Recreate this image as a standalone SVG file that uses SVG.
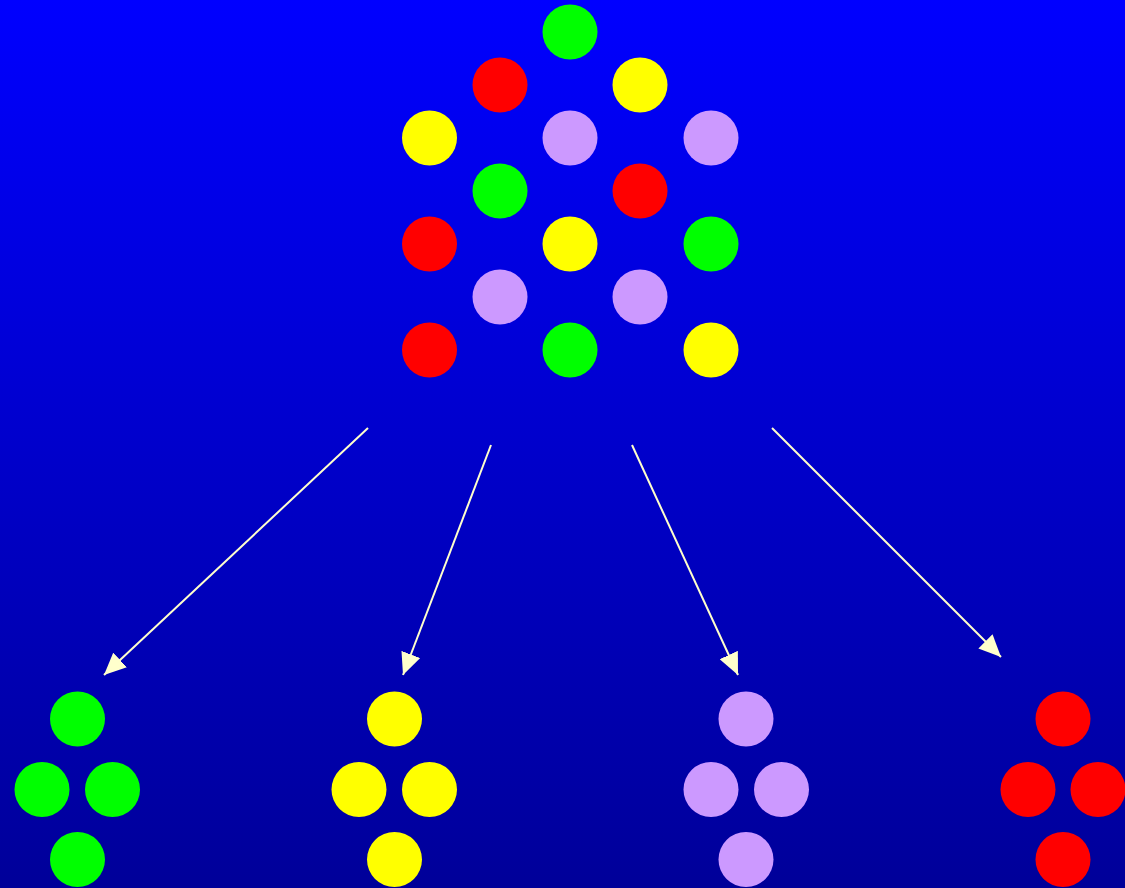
<svg xmlns="http://www.w3.org/2000/svg" width="1125" height="888" viewBox="0 0 1125 888">
<defs>
<linearGradient id="bg" x1="0" y1="0" x2="0" y2="1">
<stop offset="0" stop-color="#0000FF"/>
<stop offset="1" stop-color="#000099"/>
</linearGradient>
<marker id="ah" markerUnits="userSpaceOnUse" markerWidth="24" markerHeight="20" refX="22" refY="10" orient="auto">
<path d="M0,0 L22,10 L0,20 Z" fill="#FFFFCC"/>
</marker>
<style>
.g{fill:#00FF00}.r{fill:#FF0000}.y{fill:#FFFF00}.l{fill:#CC99FF}
.c{stroke:#FFFFCC;stroke-width:2;fill:none;marker-end:url(#ah)}
</style>
</defs>
<rect width="1125" height="888" fill="url(#bg)"/>
<g id="mixed">
<circle class="g" cx="570" cy="32" r="27.5"/>
<circle class="r" cx="500" cy="85" r="27.5"/>
<circle class="y" cx="640" cy="85" r="27.5"/>
<circle class="y" cx="429.5" cy="138" r="27.5"/>
<circle class="l" cx="570" cy="138" r="27.5"/>
<circle class="l" cx="711" cy="138" r="27.5"/>
<circle class="g" cx="500" cy="191" r="27.5"/>
<circle class="r" cx="640" cy="191" r="27.5"/>
<circle class="r" cx="429.5" cy="244" r="27.5"/>
<circle class="y" cx="570" cy="244" r="27.5"/>
<circle class="g" cx="711" cy="244" r="27.5"/>
<circle class="l" cx="500" cy="297" r="27.5"/>
<circle class="l" cx="640" cy="297" r="27.5"/>
<circle class="r" cx="429.5" cy="350" r="27.5"/>
<circle class="g" cx="570" cy="350" r="27.5"/>
<circle class="y" cx="711" cy="350" r="27.5"/>
</g>
<g id="connectors">
<line class="c" x1="368" y1="428" x2="104" y2="675"/>
<line class="c" x1="491" y1="445" x2="403" y2="675"/>
<line class="c" x1="632" y1="445" x2="738" y2="675"/>
<line class="c" x1="772" y1="428" x2="1001" y2="657"/>
</g>
<g id="green">
<circle class="g" cx="77.5" cy="719" r="27.5"/>
<circle class="g" cx="42" cy="789.5" r="27.5"/>
<circle class="g" cx="112.5" cy="789.5" r="27.5"/>
<circle class="g" cx="77.5" cy="859.5" r="27.5"/>
</g>
<g id="yellow">
<circle class="y" cx="394.5" cy="719" r="27.5"/>
<circle class="y" cx="359" cy="789.5" r="27.5"/>
<circle class="y" cx="429.5" cy="789.5" r="27.5"/>
<circle class="y" cx="394.5" cy="859.5" r="27.5"/>
</g>
<g id="lavender">
<circle class="l" cx="746" cy="719" r="27.5"/>
<circle class="l" cx="711" cy="789.5" r="27.5"/>
<circle class="l" cx="781.5" cy="789.5" r="27.5"/>
<circle class="l" cx="746" cy="859.5" r="27.5"/>
</g>
<g id="red">
<circle class="r" cx="1063" cy="719" r="27.5"/>
<circle class="r" cx="1028" cy="789.5" r="27.5"/>
<circle class="r" cx="1098" cy="789.5" r="27.5"/>
<circle class="r" cx="1063" cy="859.5" r="27.5"/>
</g>
</svg>
